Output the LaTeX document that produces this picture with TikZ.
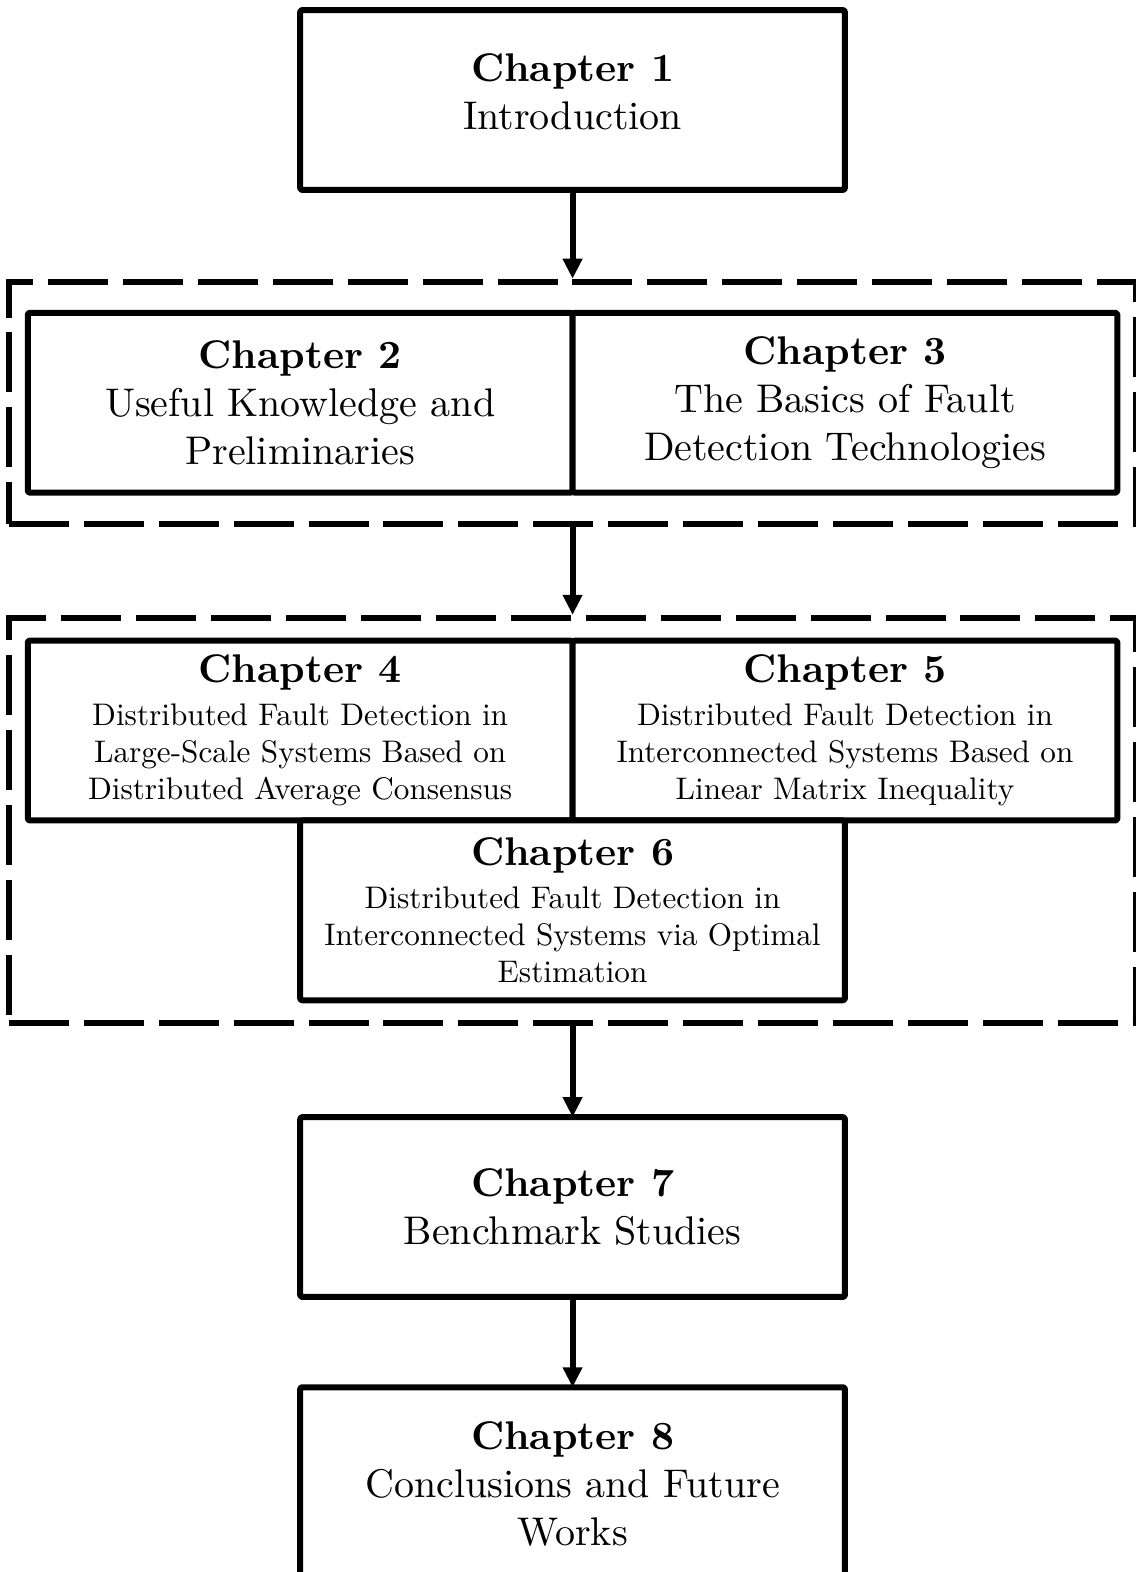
\documentclass[tikz,border=0pt]{standalone}
\usepackage{fontspec}
\setmainfont{lmroman10}[Extension=.otf, UprightFont=*-regular, BoldFont=*-bold]
\usetikzlibrary{arrows.meta,positioning,fit}
\tikzset{
  chapbox/.style={draw=black, line width=2.25pt, line join=round, rounded corners=0.8pt,
    align=center, fill=white, minimum width=7.18cm, minimum height=2.37cm,
    inner sep=2pt, outer sep=0pt, font=\fontsize{15}{18}\selectfont},
  subbox/.style={chapbox, font=\fontsize{11.7}{14}\selectfont},
  groupbox/.style={draw=black, line width=2.25pt, dash pattern=on 22.5pt off 5.6pt,
    inner xsep=0.25cm},
  arr/.style={-{Triangle[length=7.5pt,width=7pt]}, line width=2.25pt}
}
\newcommand{\chtitle}[1]{{\fontsize{15}{18}\selectfont\bfseries Chapter #1}}

\begin{document}
\begin{tikzpicture}

  \useasboundingbox (-7.546,1.318) rectangle (7.414,-19.40);

  \node[chapbox, text depth=6pt] (ch1) at (0,0) {\chtitle{1}\\Introduction};

  \node[chapbox, below left=1.62cm and 0cm of ch1.south] (ch2) {\chtitle{2}\\Useful Knowledge and\\Preliminaries};
  \node[chapbox, right=0cm of ch2] (ch3) {\chtitle{3}\\The Basics of Fault\\Detection Technologies};
  \node[groupbox, inner ysep=0.41cm, fit=(ch2)(ch3)] (grpA) {};

  \node[subbox, below left=1.95cm and 0cm of ch2.south east] (ch4) {\chtitle{4}\\[2pt]Distributed Fault Detection in\\Large-Scale Systems Based on\\Distributed Average Consensus};
  \node[subbox, right=0cm of ch4] (ch5) {\chtitle{5}\\[2pt]Distributed Fault Detection in\\Interconnected Systems Based on\\Linear Matrix Inequality};
  \node[subbox, below=0cm of ch4.south east] (ch6) {\chtitle{6}\\[2pt]Distributed Fault Detection in\\Interconnected Systems via Optimal\\Estimation};
  \node[groupbox, inner ysep=0.3cm, fit=(ch4)(ch5)(ch6)] (grpB) {};

  \node[chapbox, below=1.54cm of ch6] (ch7) {\chtitle{7}\\Benchmark Studies};
  \node[chapbox, below=1.19cm of ch7, minimum height=2.64cm, text depth=3pt] (ch8) {\chtitle{8}\\Conclusions and Future\\Works};

  \draw[arr] (ch1.south) -- (grpA.north);
  \draw[arr] (grpA.south) -- (grpB.north);
  \draw[arr] (grpB.south) -- (ch7.north);
  \draw[arr] (ch7.south) -- (ch8.north);
\end{tikzpicture}
\end{document}
